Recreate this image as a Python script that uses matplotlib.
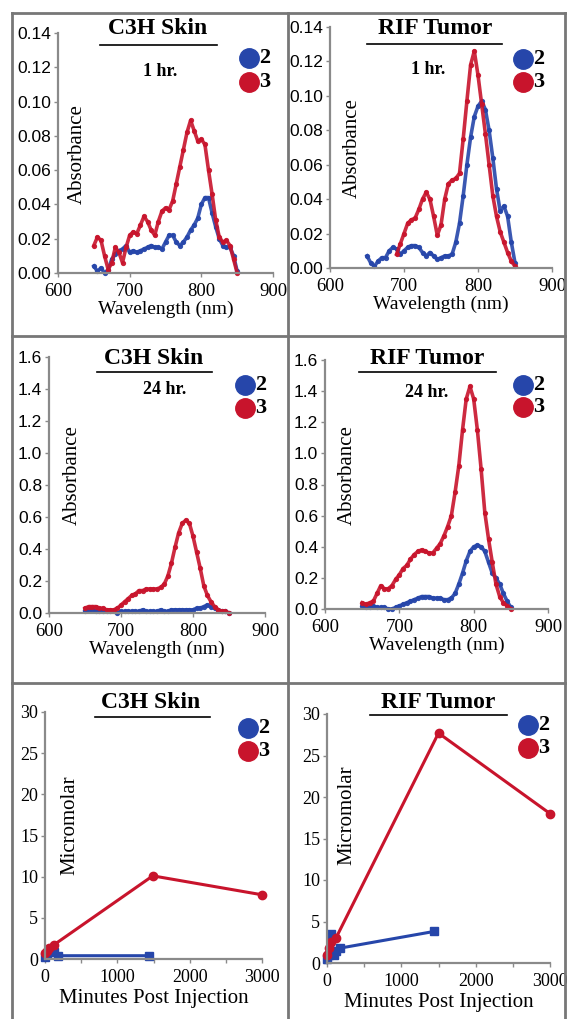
import matplotlib.pyplot as plt
from matplotlib.lines import Line2D
import numpy as np

plt.rcParams['font.family'] = 'Liberation Serif'

W, H = 567, 1019
RED = '#C8142C'
BLUE = '#2646AA'
GRAY = '#8a8a8a'

# wavelengths (nm)
wl = np.arange(650, 855, 5)
wl_rif1_red = np.arange(690, 855, 5)

# C3H skin, 1 hr
skin1_blue = [0.004, 0.001, 0.003, 0.000, 0.002, 0.008, 0.011, 0.013, 0.014, 0.016,
              0.012, 0.013, 0.012, 0.013, 0.014, 0.015, 0.016, 0.015, 0.015, 0.014,
              0.018, 0.022, 0.022, 0.018, 0.016, 0.018, 0.021, 0.025, 0.028, 0.032,
              0.040, 0.044, 0.044, 0.035, 0.027, 0.020, 0.016, 0.015, 0.015, 0.010, 0.001]
skin1_red = [0.016, 0.021, 0.019, 0.010, 0.002, 0.006, 0.015, 0.012, 0.006, 0.015,
             0.022, 0.024, 0.023, 0.028, 0.033, 0.030, 0.025, 0.022, 0.030, 0.036,
             0.038, 0.037, 0.042, 0.052, 0.062, 0.072, 0.082, 0.089, 0.083, 0.077,
             0.078, 0.075, 0.060, 0.046, 0.031, 0.021, 0.018, 0.019, 0.016, 0.008, 0.000]

# RIF tumor, 1 hr
rif1_blue = [0.007, 0.003, 0.001, 0.004, 0.006, 0.006, 0.010, 0.012, 0.011, 0.008,
             0.010, 0.012, 0.013, 0.013, 0.012, 0.009, 0.007, 0.009, 0.007, 0.005,
             0.006, 0.007, 0.007, 0.008, 0.015, 0.026, 0.042, 0.060, 0.076, 0.088,
             0.094, 0.097, 0.092, 0.080, 0.064, 0.046, 0.033, 0.036, 0.030, 0.015, 0.003]
rif1_red = [0.008, 0.014, 0.020, 0.026, 0.028, 0.029, 0.034, 0.040, 0.044, 0.040,
            0.030, 0.019, 0.025, 0.040, 0.049, 0.051, 0.052, 0.055, 0.075, 0.097,
            0.118, 0.126, 0.112, 0.095, 0.078, 0.060, 0.042, 0.030, 0.021, 0.015,
            0.009, 0.004, 0.001]

# C3H skin, 24 hr
skin24_blue = [0.01, 0.02, 0.02, 0.01, 0.01, 0.01, 0.01, 0.01, 0.01, 0.00,
               0.01, 0.01, 0.01, 0.01, 0.01, 0.01, 0.02, 0.01, 0.01, 0.01,
               0.01, 0.02, 0.01, 0.01, 0.02, 0.02, 0.02, 0.02, 0.02, 0.02,
               0.02, 0.03, 0.03, 0.04, 0.05, 0.04, 0.03, 0.02, 0.01, 0.01, 0.00]
skin24_red = [0.03, 0.04, 0.04, 0.04, 0.03, 0.03, 0.02, 0.02, 0.02, 0.03,
              0.05, 0.07, 0.09, 0.11, 0.12, 0.14, 0.14, 0.15, 0.15, 0.15,
              0.15, 0.16, 0.18, 0.23, 0.31, 0.41, 0.50, 0.56, 0.58, 0.56,
              0.48, 0.38, 0.28, 0.17, 0.11, 0.07, 0.04, 0.02, 0.01, 0.01, 0.00]

# RIF tumor, 24 hr
rif24_blue = [0.02, 0.01, 0.01, 0.02, 0.01, 0.01, 0.01, 0.00, 0.00, 0.01,
              0.02, 0.03, 0.04, 0.05, 0.06, 0.07, 0.08, 0.08, 0.08, 0.07,
              0.07, 0.07, 0.06, 0.06, 0.07, 0.10, 0.16, 0.23, 0.31, 0.37,
              0.40, 0.41, 0.40, 0.37, 0.30, 0.23, 0.20, 0.16, 0.10, 0.05, 0.01]
rif24_red = [0.04, 0.03, 0.04, 0.05, 0.10, 0.15, 0.13, 0.13, 0.15, 0.19,
             0.22, 0.26, 0.28, 0.32, 0.35, 0.37, 0.38, 0.37, 0.36, 0.36,
             0.39, 0.42, 0.47, 0.53, 0.60, 0.75, 0.92, 1.15, 1.35, 1.43,
             1.35, 1.15, 0.90, 0.62, 0.45, 0.30, 0.16, 0.08, 0.04, 0.02, 0.00]

# micromolar vs minutes post injection
skin_t_blue = [5, 30, 60, 120, 180, 1440]
skin_c_blue = [0.3, 0.6, 1.0, 0.8, 0.4, 0.4]
skin_t_red = [5, 30, 60, 120, 1490, 3000]
skin_c_red = [0.7, 1.0, 1.3, 1.7, 10.1, 7.8]

rif_t_blue = [5, 30, 60, 90, 120, 180, 1440]
rif_c_blue = [0.5, 1.0, 3.5, 1.0, 1.5, 1.8, 3.8]
rif_t_red = [5, 30, 60, 120, 1500, 3000]
rif_c_red = [1.0, 1.8, 2.5, 3.0, 27.7, 18.0]

fig = plt.figure(figsize=(W / 100, H / 100), dpi=100)


def fx(x):
    return x / W


def fy(y):
    return 1 - y / H


def add_ax(l, r, b, t):
    ax = fig.add_axes([fx(l), fy(b), (r - l) / W, (b - t) / H])
    for s in ['top', 'right']:
        ax.spines[s].set_visible(False)
    for s in ['left', 'bottom']:
        ax.spines[s].set_color(GRAY)
        ax.spines[s].set_linewidth(1.6)
    ax.tick_params(colors=GRAY, labelcolor='black', length=3, width=1)
    ax.patch.set_alpha(0)
    return ax


def decorate(title, sub, tx, ty, ul, ur, uy, sx, sy, lx, ly1, ly2, ylab, yx, yy):
    fig.text(fx(tx), fy(ty), title, fontsize=17, fontweight='bold', ha='center', va='center')
    fig.add_artist(Line2D([fx(ul), fx(ur)], [fy(uy), fy(uy)], color='black', lw=1.2))
    if sub:
        fig.text(fx(sx), fy(sy), sub, fontsize=13, fontweight='bold', ha='center', va='center')
    fig.add_artist(Line2D([fx(lx)], [fy(ly1)], marker='o', ms=14, color=BLUE, mec=BLUE))
    fig.add_artist(Line2D([fx(lx)], [fy(ly2)], marker='o', ms=14, color=RED, mec=RED))
    fig.text(fx(lx + 10), fy(ly1), '2', fontsize=16, fontweight='bold', ha='left', va='center')
    fig.text(fx(lx + 10), fy(ly2), '3', fontsize=16, fontweight='bold', ha='left', va='center')
    fig.text(fx(yx), fy(yy), ylab, fontsize=15, rotation=90, ha='center', va='center')


def spectrum_axes(ax, ymax, ystep, fmt):
    ax.set_xlim(600, 900)
    ax.set_ylim(0, ymax)
    ax.set_xticks([600, 700, 800, 900])
    ax.set_yticks(np.arange(0, ymax + ystep / 2, ystep))
    ax.set_yticklabels([fmt.format(v) for v in np.arange(0, ymax + ystep / 2, ystep)],
                       family='Liberation Sans', fontsize=12.5)
    ax.tick_params(axis='x', labelsize=13.5, pad=4)
    ax.tick_params(axis='y', pad=2)
    ax.set_xlabel('Wavelength (nm)', fontsize=14, labelpad=1)


def spectrum(ax, x, y, c):
    ax.plot(x, y, color=c, lw=2.6, marker='o', ms=2.8, alpha=0.9, clip_on=False)


# row 1
ax1 = add_ax(58, 273, 273, 33)
spectrum(ax1, wl, skin1_blue, BLUE)
spectrum(ax1, wl, skin1_red, RED)
spectrum_axes(ax1, 0.14, 0.02, '{:.2f}')
decorate('C3H Skin', '1 hr.', 158, 28, 100, 217, 45, 160, 72, 249, 58, 82, 'Absorbance', 77, 154)

ax2 = add_ax(330, 552, 268, 27)
spectrum(ax2, wl, rif1_blue, BLUE)
spectrum(ax2, wl_rif1_red, rif1_red, RED)
spectrum_axes(ax2, 0.14, 0.02, '{:.2f}')
decorate('RIF Tumor', '1 hr.', 435, 29, 367, 502, 44, 428, 70, 523, 59, 82, 'Absorbance', 352, 148)

# row 2
ax3 = add_ax(49, 265, 613, 357)
spectrum(ax3, wl, skin24_blue, BLUE)
spectrum(ax3, wl, skin24_red, RED)
spectrum_axes(ax3, 1.6, 0.2, '{:.1f}')
decorate('C3H Skin', '24 hr.', 154, 358, 97, 212, 372, 165, 390, 245, 385, 408, 'Absorbance', 72, 475)

ax4 = add_ax(325, 548, 609, 360)
spectrum(ax4, wl, rif24_blue, BLUE)
spectrum(ax4, wl, rif24_red, RED)
spectrum_axes(ax4, 1.6, 0.2, '{:.1f}')
decorate('RIF Tumor', '24 hr.', 427, 358, 359, 496, 372, 427, 392, 523, 385, 407, 'Absorbance', 347, 475)


# row 3
def time_axes(ax):
    ax.set_xlim(0, 3000)
    ax.set_ylim(0, 30)
    ax.set_xticks([0, 1000, 2000, 3000])
    ax.set_xticks([500, 1500, 2500], minor=True)
    ax.set_yticks([0, 5, 10, 15, 20, 25, 30])
    ax.tick_params(axis='both', labelsize=13, pad=2)
    ax.tick_params(axis='x', pad=4)
    ax.tick_params(axis='x', which='minor', colors=GRAY, length=3, width=1)
    ax.set_xlabel('Minutes Post Injection', fontsize=15, labelpad=2)


ax5 = add_ax(45, 262, 959, 712)
ax5.plot(skin_t_blue, skin_c_blue, color=BLUE, lw=2.2, marker='s', ms=6, clip_on=False)
ax5.plot(skin_t_red, skin_c_red, color=RED, lw=2.2, marker='o', ms=6, clip_on=False)
time_axes(ax5)
decorate('C3H Skin', None, 151, 703, 95, 210, 717, 0, 0, 248, 728, 751, 'Micromolar', 70, 825)

ax6 = add_ax(327, 550, 963, 714)
ax6.plot(rif_t_blue, rif_c_blue, color=BLUE, lw=2.2, marker='s', ms=6, clip_on=False)
ax6.plot(rif_t_red, rif_c_red, color=RED, lw=2.2, marker='o', ms=6, clip_on=False)
time_axes(ax6)
decorate('RIF Tumor', None, 438, 702, 370, 507, 715, 0, 0, 528, 725, 748, 'Micromolar', 347, 815)

# panel frame
for xs, ys in [([12, 565], [13, 13]), ([12, 12], [13, 1019]), ([565, 565], [13, 1019]),
               ([288, 288], [13, 1019]), ([12, 565], [336, 336]), ([12, 565], [683, 683])]:
    fig.add_artist(Line2D([fx(v) for v in xs], [fy(v) for v in ys], color='#777777', lw=2))

fig.savefig('out.png', dpi=100)
